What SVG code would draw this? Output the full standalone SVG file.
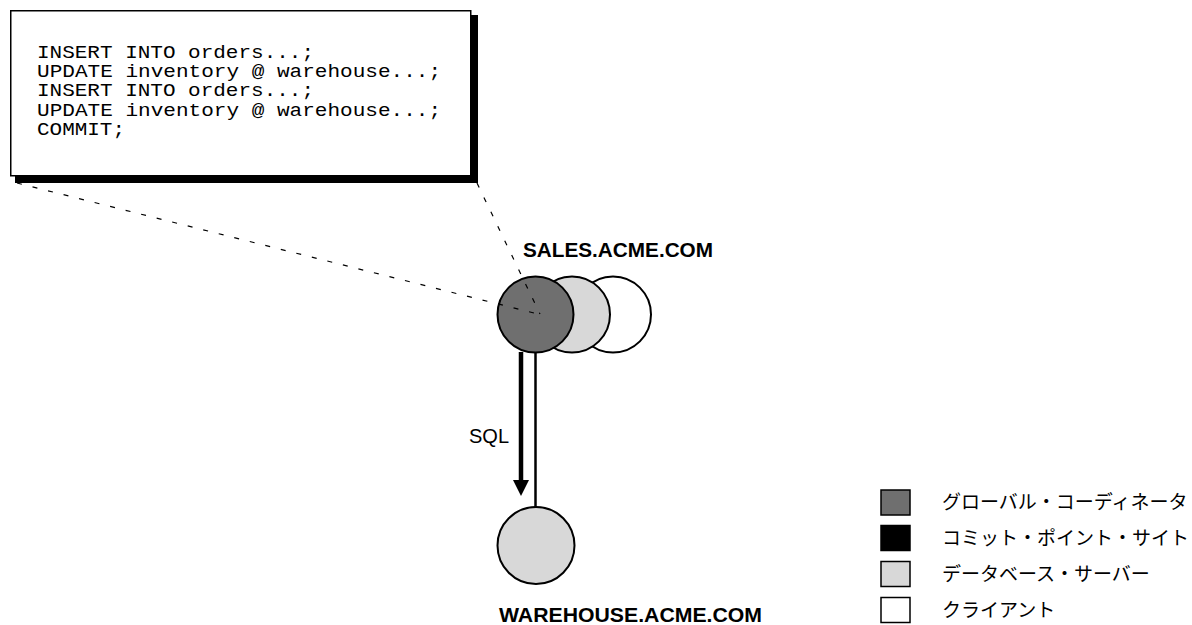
<svg xmlns="http://www.w3.org/2000/svg" width="1192" height="625" viewBox="0 0 1192 625">
  <style>
    .code { font-family: "Liberation Mono", "Courier New", monospace; font-size: 19px; fill: #000; }
    .site { font-family: "Liberation Sans", Arial, sans-serif; font-weight: bold; font-size: 19.5px; fill: #000; }
    .lbl { font-family: "Liberation Sans", Arial, sans-serif; font-size: 20px; fill: #000; }
    .leg { font-family: "Noto Sans CJK JP", "Noto Sans", sans-serif; font-size: 19px; fill: #000; }
    .node { stroke: #000; stroke-width: 2; }
    .dash { stroke: #000; stroke-width: 1.2; stroke-dasharray: 5 11; fill: none; }
    .sw { stroke: #000; stroke-width: 1.5; }
  </style>

  <g id="sql-box">
    <rect x="15" y="15" width="463" height="168" fill="#000"/>
    <rect x="10.75" y="10.75" width="460" height="165" fill="#fff" stroke="#000" stroke-width="1.5"/>
    <text class="code" x="37" y="58" textLength="277" lengthAdjust="spacingAndGlyphs">INSERT INTO orders...;</text>
    <text class="code" x="37" y="77" textLength="404" lengthAdjust="spacingAndGlyphs">UPDATE inventory @ warehouse...;</text>
    <text class="code" x="37" y="96" textLength="277" lengthAdjust="spacingAndGlyphs">INSERT INTO orders...;</text>
    <text class="code" x="37" y="116" textLength="404" lengthAdjust="spacingAndGlyphs">UPDATE inventory @ warehouse...;</text>
    <text class="code" x="37" y="135" textLength="88" lengthAdjust="spacingAndGlyphs">COMMIT;</text>
  </g>

  <g id="sales">
    <circle class="node" cx="613" cy="314.5" r="38" fill="#fff"/>
    <circle class="node" cx="572" cy="314.5" r="38" fill="#d8d8d8"/>
    <circle class="node" cx="535.5" cy="314.5" r="38" fill="#6f6f6f"/>
    <text class="site" x="523" y="257" textLength="190" lengthAdjust="spacingAndGlyphs">SALES.ACME.COM</text>
  </g>

  <g id="warehouse">
    <circle class="node" cx="536" cy="545.5" r="38.5" fill="#d8d8d8"/>
    <text class="site" x="499" y="622" textLength="263" lengthAdjust="spacingAndGlyphs">WAREHOUSE.ACME.COM</text>
  </g>

  <g id="connectors">
    <line class="dash" x1="17" y1="183" x2="538" y2="314"/>
    <line class="dash" x1="477" y1="183" x2="540" y2="314"/>
    <line x1="521" y1="352" x2="521" y2="482" stroke="#000" stroke-width="4.5"/>
    <polygon points="513,480 529,480 521,496" fill="#000"/>
    <line x1="535.5" y1="352" x2="535.5" y2="507.5" stroke="#000" stroke-width="2.5"/>
    <text class="lbl" x="469" y="443">SQL</text>
  </g>

  <g id="legend">
    <rect class="sw" x="881" y="490" width="29" height="25" fill="#6f6f6f"/>
    <rect class="sw" x="881" y="525.5" width="29" height="25" fill="#000"/>
    <rect class="sw" x="881" y="561.5" width="29" height="25" fill="#d8d8d8"/>
    <rect class="sw" x="881" y="597.5" width="29" height="25" fill="#fff"/>
    <text class="leg" x="942" y="509">グローバル・コーディネータ</text>
    <text class="leg" x="942" y="545">コミット・ポイント・サイト</text>
    <text class="leg" x="942" y="581">データベース・サーバー</text>
    <text class="leg" x="942" y="617">クライアント</text>
  </g>
</svg>
